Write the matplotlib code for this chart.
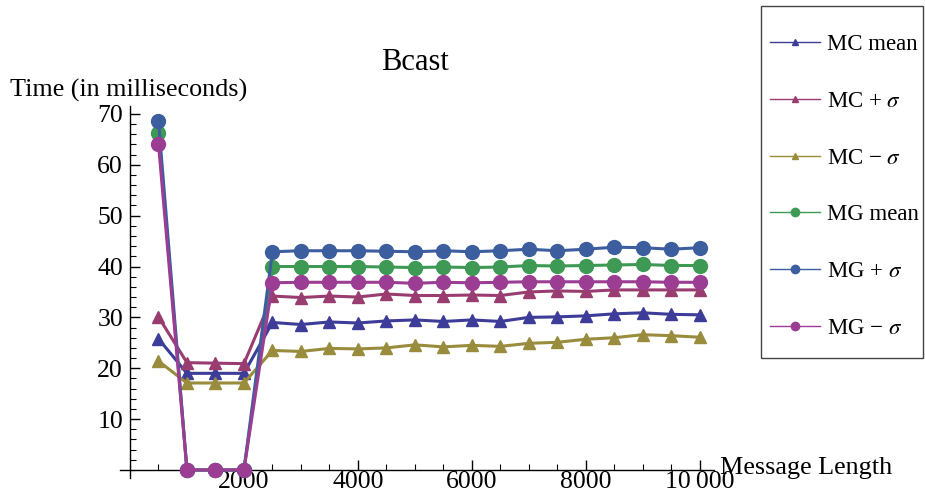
import matplotlib
matplotlib.use("Agg")
import matplotlib.pyplot as plt
from matplotlib.lines import Line2D
from matplotlib.patches import Rectangle
from matplotlib.ticker import MultipleLocator, FixedLocator, FuncFormatter

plt.rcParams['font.family'] = ['Liberation Serif', 'DejaVu Serif']
plt.rcParams['mathtext.fontset'] = 'stix'

x = [500, 1000, 1500, 2000, 2500, 3000, 3500, 4000, 4500, 5000,
     5500, 6000, 6500, 7000, 7500, 8000, 8500, 9000, 9500, 10000]

mc_mean = [25.8, 19.0, 19.0, 19.0, 29.0, 28.6, 29.1, 28.9, 29.3, 29.5,
           29.2, 29.5, 29.2, 30.0, 30.1, 30.3, 30.7, 30.9, 30.6, 30.5]
mc_plus = [30.1, 21.1, 21.0, 20.9, 34.2, 33.9, 34.2, 34.0, 34.6, 34.3,
           34.3, 34.4, 34.3, 35.0, 35.2, 35.1, 35.4, 35.4, 35.4, 35.4]
mc_minus = [21.4, 17.1, 17.1, 17.1, 23.5, 23.3, 23.9, 23.8, 24.0, 24.6,
            24.2, 24.5, 24.3, 24.9, 25.1, 25.7, 26.0, 26.6, 26.4, 26.1]
mg_mean = [66.3, 0, 0, 0, 40.0, 40.0, 40.0, 40.0, 39.9, 39.8,
           39.9, 39.8, 39.9, 40.2, 40.1, 40.2, 40.3, 40.4, 40.2, 40.2]
mg_plus = [68.7, 0, 0, 0, 42.9, 43.1, 43.1, 43.1, 43.0, 42.9,
           43.1, 42.9, 43.1, 43.4, 43.1, 43.4, 43.8, 43.7, 43.4, 43.7]
mg_minus = [64.1, 0, 0, 0, 36.8, 36.9, 36.9, 36.9, 36.9, 36.7,
            36.9, 36.8, 36.9, 37.0, 37.0, 37.0, 37.0, 37.0, 36.9, 36.9]

labels = ["MC mean", "MC + $\\sigma$", "MC \u2212 $\\sigma$",
          "MG mean", "MG + $\\sigma$", "MG \u2212 $\\sigma$"]
series = [mc_mean, mc_plus, mc_minus, mg_mean, mg_plus, mg_minus]
colors = [(0.24, 0.24, 0.60), (0.60, 0.24, 0.44), (0.60, 0.55, 0.24),
          (0.24, 0.60, 0.33), (0.24, 0.37, 0.62), (0.61, 0.24, 0.58)]
markers = ['^', '^', '^', 'o', 'o', 'o']
msizes = [8, 8, 8, 10, 10, 10]

fig = plt.figure(figsize=(9.25, 5), dpi=100)
ax = fig.add_axes([120/925, (500-477.6)/500, 594/925, 371.3/500])

for ys, c, m, ms in zip(series, colors, markers, msizes):
    ax.plot(x, ys, color=c, lw=2.2, marker=m, ms=ms, mec=c, mfc=c,
            clip_on=False, zorder=3)

ax.set_xlim(-175, 10250)
ax.set_ylim(-1.5, 71.5)

for s in ['top', 'right']:
    ax.spines[s].set_visible(False)
ax.spines['left'].set_position(('data', 0))
ax.spines['bottom'].set_position(('data', 0))
ax.spines['left'].set_linewidth(1.0)
ax.spines['bottom'].set_linewidth(1.0)

ax.yaxis.set_major_locator(FixedLocator([10, 20, 30, 40, 50, 60, 70]))
ax.yaxis.set_minor_locator(MultipleLocator(2))
ax.xaxis.set_major_locator(FixedLocator([2000, 4000, 6000, 8000, 10000]))
ax.xaxis.set_minor_locator(MultipleLocator(500))
ax.xaxis.set_major_formatter(FuncFormatter(
    lambda v, p: "10\u2009000" if v >= 10000 else f"{int(v)}"))

ax.tick_params(axis='both', which='major', direction='in', length=7, width=1,
               labelsize=18.5, pad=5)
ax.tick_params(axis='both', which='minor', direction='in', length=4, width=0.8)
ax.tick_params(axis='x', which='major', pad=1)

fig.text(415/925, 1-62/500, "Bcast", ha='center', va='center', fontsize=22)
fig.text(10/925, 1-90/500, "Time (in milliseconds)", ha='left', va='center',
         fontsize=18.8)
fig.text(720/925, 1-468/500, "Message Length", ha='left', va='center',
         fontsize=18.8)

# legend frame
fig.patches.append(Rectangle((761/925, 1-358/500), 162/925, 352/500,
                             transform=fig.transFigure, fill=False,
                             edgecolor='#444444', lw=1.0))

handles = [Line2D([0], [0], color=c, lw=1.0, marker=m, ms=ms*0.6, mec=c, mfc=c)
           for c, m, ms in zip(colors, markers, msizes)]
leg = fig.legend(handles, labels, loc='upper left',
                 bbox_to_anchor=(770/925, 1-34/500), fontsize=16.5,
                 labelspacing=1.56, handlelength=2.18, handletextpad=0.3,
                 borderpad=0, borderaxespad=0, frameon=False)

fig.savefig("out.png", dpi=100)
